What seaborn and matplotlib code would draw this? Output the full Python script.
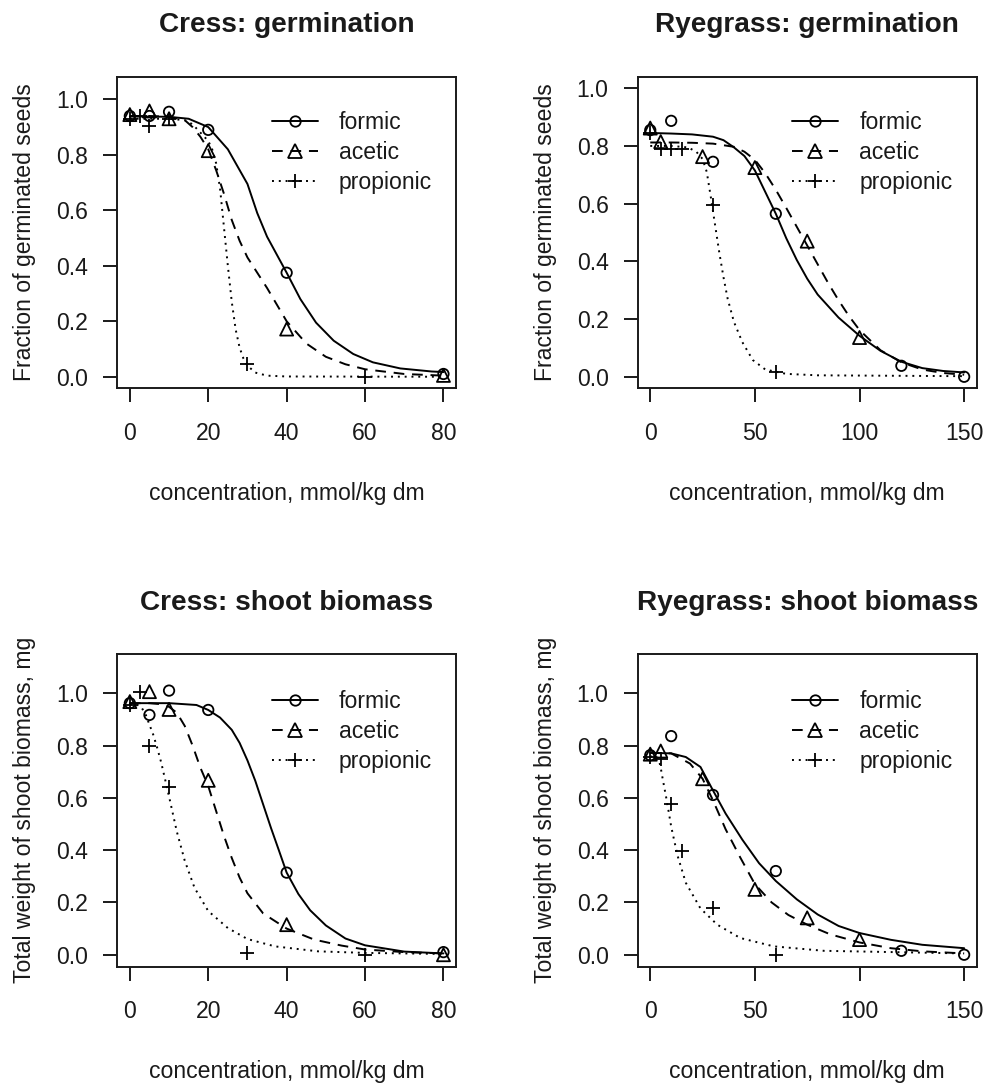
import numpy as np
import pandas as pd
import matplotlib
matplotlib.use("Agg")
import matplotlib.pyplot as plt
from matplotlib.lines import Line2D
import seaborn as sns

# ---------------- data ----------------
acids = ["formic", "acetic", "propionic"]
titles = ["Cress: germination", "Ryegrass: germination",
          "Cress: shoot biomass", "Ryegrass: shoot biomass"]
ylabels = ["Fraction of germinated seeds", "Fraction of germinated seeds",
           "Total weight of shoot biomass, mg", "Total weight of shoot biomass, mg"]
xlabel = "concentration, mmol/kg dm"
xticks_cress = [0, 20, 40, 60, 80]
xticks_rye = [0, 50, 100, 150]
yticks = [0.0, 0.2, 0.4, 0.6, 0.8, 1.0]
ytick_labels = ["0.0", "0.2", "0.4", "0.6", "0.8", "1.0"]

# --- Cress germination: observed points
cg_formic_x = [0, 5, 10, 20, 40, 80]
cg_formic_y = [0.94, 0.94, 0.955, 0.89, 0.375, 0.01]
cg_acetic_x = [0, 5, 10, 20, 40, 80]
cg_acetic_y = [0.945, 0.958, 0.93, 0.815, 0.172, 0.005]
cg_propionic_x = [0, 2.5, 5, 10, 30, 60]
cg_propionic_y = [0.93, 0.94, 0.905, 0.93, 0.047, 0.0]
# --- Cress germination: fitted curves
cg_formic_cx = [0, 5, 10, 15, 20, 25, 30, 32.5, 35, 37.5, 40, 43.5, 47.5, 52, 57, 62, 69, 77, 80]
cg_formic_cy = [0.938, 0.938, 0.937, 0.93, 0.9, 0.82, 0.695, 0.59, 0.505, 0.44, 0.375, 0.28, 0.195, 0.13, 0.082, 0.052, 0.03, 0.019, 0.017]
cg_acetic_cx = [0, 5, 10, 14, 16, 18, 20, 22, 24, 26, 28, 30, 35, 40, 45, 50, 55, 60, 70, 80]
cg_acetic_cy = [0.94, 0.94, 0.937, 0.925, 0.90, 0.865, 0.82, 0.745, 0.66, 0.565, 0.49, 0.43, 0.32, 0.2, 0.12, 0.072, 0.045, 0.027, 0.01, 0.004]
cg_propionic_cx = [0, 5, 10, 14, 16, 18, 20, 21, 22, 23, 24, 25, 26, 27, 28, 29, 30, 32, 35, 40, 80]
cg_propionic_cy = [0.93, 0.93, 0.93, 0.925, 0.91, 0.88, 0.85, 0.82, 0.77, 0.68, 0.54, 0.40, 0.27, 0.17, 0.105, 0.065, 0.04, 0.015, 0.004, 0.001, 0.0]

# --- Ryegrass germination: observed points
rg_formic_x = [0, 10, 30, 60, 120, 150]
rg_formic_y = [0.855, 0.887, 0.745, 0.565, 0.038, 0.0]
rg_acetic_x = [0, 5, 25, 50, 75, 100]
rg_acetic_y = [0.862, 0.815, 0.763, 0.725, 0.47, 0.136]
rg_propionic_x = [0, 5, 10, 15, 30, 60]
rg_propionic_y = [0.845, 0.79, 0.79, 0.79, 0.597, 0.015]
# --- Ryegrass germination: fitted curves
rg_formic_cx = [0, 10, 20, 30, 35, 40, 45, 50, 55, 60, 65, 70, 75, 80, 90, 100, 110, 120, 130, 140, 150]
rg_formic_cy = [0.845, 0.843, 0.84, 0.832, 0.82, 0.795, 0.765, 0.715, 0.64, 0.565, 0.48, 0.405, 0.34, 0.285, 0.205, 0.142, 0.09, 0.052, 0.03, 0.02, 0.015]
rg_acetic_cx = [0, 10, 20, 30, 40, 45, 50, 55, 60, 65, 70, 75, 80, 85, 90, 95, 100, 110, 120, 130, 140, 150]
rg_acetic_cy = [0.812, 0.812, 0.811, 0.808, 0.797, 0.78, 0.752, 0.705, 0.648, 0.585, 0.52, 0.455, 0.39, 0.325, 0.265, 0.21, 0.162, 0.092, 0.05, 0.025, 0.013, 0.007]
rg_propionic_cx = [0, 10, 18, 22, 25, 27, 29, 31, 33, 35, 37, 40, 44, 49, 55, 65, 80, 150]
rg_propionic_cy = [0.80, 0.80, 0.795, 0.78, 0.755, 0.71, 0.62, 0.525, 0.43, 0.345, 0.27, 0.19, 0.12, 0.058, 0.025, 0.01, 0.005, 0.002]

# --- Cress shoot biomass: observed points
cs_formic_x = [0, 5, 10, 20, 40, 80]
cs_formic_y = [0.962, 0.917, 1.01, 0.936, 0.314, 0.01]
cs_acetic_x = [0, 5, 10, 20, 40, 80]
cs_acetic_y = [0.968, 1.006, 0.938, 0.667, 0.115, 0.0]
cs_propionic_x = [0, 2.5, 5, 10, 30, 60]
cs_propionic_y = [0.955, 1.006, 0.80, 0.643, 0.006, 0.0]
# --- Cress shoot biomass: fitted curves
cs_formic_cx = [0, 10, 17, 20, 23, 26, 28, 30, 32, 34, 36, 38, 40, 43, 46, 50, 55, 60, 70, 80]
cs_formic_cy = [0.962, 0.962, 0.955, 0.936, 0.907, 0.86, 0.81, 0.743, 0.665, 0.575, 0.485, 0.40, 0.314, 0.232, 0.17, 0.112, 0.062, 0.036, 0.012, 0.005]
cs_acetic_cx = [0, 5, 8, 10, 12, 14, 16, 18, 20, 22, 24, 26, 28, 30, 34, 40, 47, 54, 60, 70, 80]
cs_acetic_cy = [0.962, 0.962, 0.958, 0.948, 0.925, 0.875, 0.80, 0.715, 0.645, 0.55, 0.455, 0.37, 0.295, 0.235, 0.158, 0.1, 0.058, 0.035, 0.02, 0.01, 0.005]
cs_propionic_cx = [0, 2, 3, 4, 5, 6, 7, 8, 9, 10, 12, 14, 16.5, 20, 25, 30, 37, 48, 60, 80]
cs_propionic_cy = [0.957, 0.955, 0.945, 0.92, 0.88, 0.84, 0.79, 0.735, 0.67, 0.605, 0.47, 0.36, 0.256, 0.167, 0.102, 0.06, 0.032, 0.013, 0.007, 0.003]

# --- Ryegrass shoot biomass: observed points
rs_formic_x = [0, 10, 30, 60, 120, 150]
rs_formic_y = [0.763, 0.836, 0.611, 0.32, 0.015, 0.0]
rs_acetic_x = [0, 5, 25, 50, 75, 100]
rs_acetic_y = [0.767, 0.779, 0.673, 0.25, 0.141, 0.058]
rs_propionic_x = [0, 5, 10, 15, 30, 60]
rs_propionic_y = [0.756, 0.75, 0.577, 0.397, 0.179, 0.0]
# --- Ryegrass shoot biomass: fitted curves
rs_formic_cx = [0, 10, 17, 24, 30, 36, 44, 52, 60, 70, 80, 90, 100, 115, 130, 150]
rs_formic_cy = [0.772, 0.77, 0.756, 0.718, 0.628, 0.54, 0.44, 0.35, 0.282, 0.212, 0.154, 0.11, 0.083, 0.057, 0.038, 0.025]
rs_acetic_cx = [0, 10, 19, 25, 30, 36, 43, 50, 58, 66, 75, 86, 100, 115, 130, 150]
rs_acetic_cy = [0.772, 0.77, 0.731, 0.673, 0.59, 0.48, 0.372, 0.27, 0.2, 0.152, 0.115, 0.078, 0.047, 0.025, 0.013, 0.005]
rs_propionic_cx = [0, 3, 4, 5, 6, 8, 10, 13, 17, 24, 32, 43, 59, 83, 150]
rs_propionic_cy = [0.758, 0.757, 0.75, 0.715, 0.67, 0.585, 0.49, 0.38, 0.275, 0.177, 0.115, 0.064, 0.032, 0.015, 0.005]

# ---------------- assemble tables ----------------
def points_table(fx, fy, ax_, ay, px, py):
    rows = []
    for acid, xs, ys in [("formic", fx, fy), ("acetic", ax_, ay), ("propionic", px, py)]:
        rows += [(acid, x, y) for x, y in zip(xs, ys)]
    return pd.DataFrame(rows, columns=["acid", "conc", "value"])

panels = [
    dict(pts=points_table(cg_formic_x, cg_formic_y, cg_acetic_x, cg_acetic_y, cg_propionic_x, cg_propionic_y),
         crv=points_table(cg_formic_cx, cg_formic_cy, cg_acetic_cx, cg_acetic_cy, cg_propionic_cx, cg_propionic_cy),
         xticks=xticks_cress, xlim=(-3.2, 83.2), ylim=(-0.0416, 1.0816)),
    dict(pts=points_table(rg_formic_x, rg_formic_y, rg_acetic_x, rg_acetic_y, rg_propionic_x, rg_propionic_y),
         crv=points_table(rg_formic_cx, rg_formic_cy, rg_acetic_cx, rg_acetic_cy, rg_propionic_cx, rg_propionic_cy),
         xticks=xticks_rye, xlim=(-6, 156), ylim=(-0.04, 1.04)),
    dict(pts=points_table(cs_formic_x, cs_formic_y, cs_acetic_x, cs_acetic_y, cs_propionic_x, cs_propionic_y),
         crv=points_table(cs_formic_cx, cs_formic_cy, cs_acetic_cx, cs_acetic_cy, cs_propionic_cx, cs_propionic_cy),
         xticks=xticks_cress, xlim=(-3.2, 83.2), ylim=(-0.045, 1.15)),
    dict(pts=points_table(rs_formic_x, rs_formic_y, rs_acetic_x, rs_acetic_y, rs_propionic_x, rs_propionic_y),
         crv=points_table(rs_formic_cx, rs_formic_cy, rs_acetic_cx, rs_acetic_cy, rs_propionic_cx, rs_propionic_cy),
         xticks=xticks_rye, xlim=(-6, 156), ylim=(-0.045, 1.15)),
]

# ---------------- style ----------------
sns.set_style("white")
plt.rcParams["font.family"] = ["Liberation Sans", "DejaVu Sans"]
plt.rcParams["font.size"] = 16.6
plt.rcParams["axes.linewidth"] = 1.4
plt.rcParams["text.color"] = "#1a1a1a"
plt.rcParams["axes.labelcolor"] = "#1a1a1a"
plt.rcParams["xtick.color"] = "#1a1a1a"
plt.rcParams["ytick.color"] = "#1a1a1a"

LW = 1.4
dash_map = {"formic": "", "acetic": (5.5, 4), "propionic": (1, 2.5)}
ls_map = {"formic": "-", "acetic": (0, (5.5, 4)), "propionic": (0, (1, 2.5))}
marker_map = {"formic": "o", "acetic": "^", "propionic": "+"}
msize = {"formic": 7.5, "acetic": 9.4, "propionic": 9.6}

fig = plt.figure(figsize=(9.85, 10.9), dpi=100)
W, H = 985, 1090
boxes = [(117.3, 76.7, 456.0, 388.3), (637.7, 76.7, 976.7, 388.3),
         (117.3, 654.0, 456.0, 966.5), (637.7, 654.0, 976.7, 966.5)]

for i, (p, b) in enumerate(zip(panels, boxes)):
    l, t, r, bt = b
    ax = fig.add_axes([l / W, 1 - bt / H, (r - l) / W, (bt - t) / H])
    sns.lineplot(data=p["crv"], x="conc", y="value", style="acid", dashes=dash_map,
                 color="black", lw=LW, estimator=None, sort=False, legend=False, ax=ax)
    for acid in acids:
        sub = p["pts"][p["pts"]["acid"] == acid]
        if marker_map[acid] == "+":
            sns.scatterplot(data=sub, x="conc", y="value", marker="+", color="black",
                            s=msize[acid] ** 2, linewidth=1.3, legend=False, ax=ax, zorder=3)
        else:
            sns.scatterplot(data=sub, x="conc", y="value", marker=marker_map[acid],
                            color="black", facecolor="none", edgecolor="black",
                            s=msize[acid] ** 2, linewidth=1.3, legend=False, ax=ax, zorder=3)
    ax.set_xlim(*p["xlim"])
    ax.set_ylim(*p["ylim"])
    ax.set_xticks(p["xticks"])
    ax.set_xticklabels([str(v) for v in p["xticks"]])
    ax.set_yticks(yticks)
    ax.set_yticklabels(ytick_labels)
    ax.tick_params(axis="both", direction="out", length=10, width=1.4, labelsize=16.6,
                   bottom=True, left=True, top=False, right=False)
    ax.tick_params(axis="x", pad=14)
    ax.tick_params(axis="y", pad=11)
    for s in ax.spines.values():
        s.set_visible(True)
        s.set_color("#1a1a1a")
        s.set_linewidth(1.4)
    ax.set_title(titles[i], fontsize=20.2, fontweight="bold", pad=32)
    ax.set_xlabel(xlabel, fontsize=16.6)
    ax.set_ylabel(ylabels[i], fontsize=16.6)
    ax.xaxis.set_label_coords(0.5, -0.300)
    ax.yaxis.set_label_coords(-0.2386, 0.5)

    handles = [Line2D([], [], color="black", lw=LW, linestyle=ls_map[a], marker=marker_map[a],
                      markersize=msize[a], markerfacecolor="none", markeredgecolor="black",
                      markeredgewidth=1.3) for a in acids]
    ax.legend(handles, acids, loc="upper left", bbox_to_anchor=(0.456, 0.89 if i < 2 else 0.884),
              frameon=False, borderpad=0, borderaxespad=0, handlelength=2.0,
              handletextpad=0.9, labelspacing=0.3, fontsize=16.6, numpoints=1)

fig.savefig("out.png", dpi=100)
